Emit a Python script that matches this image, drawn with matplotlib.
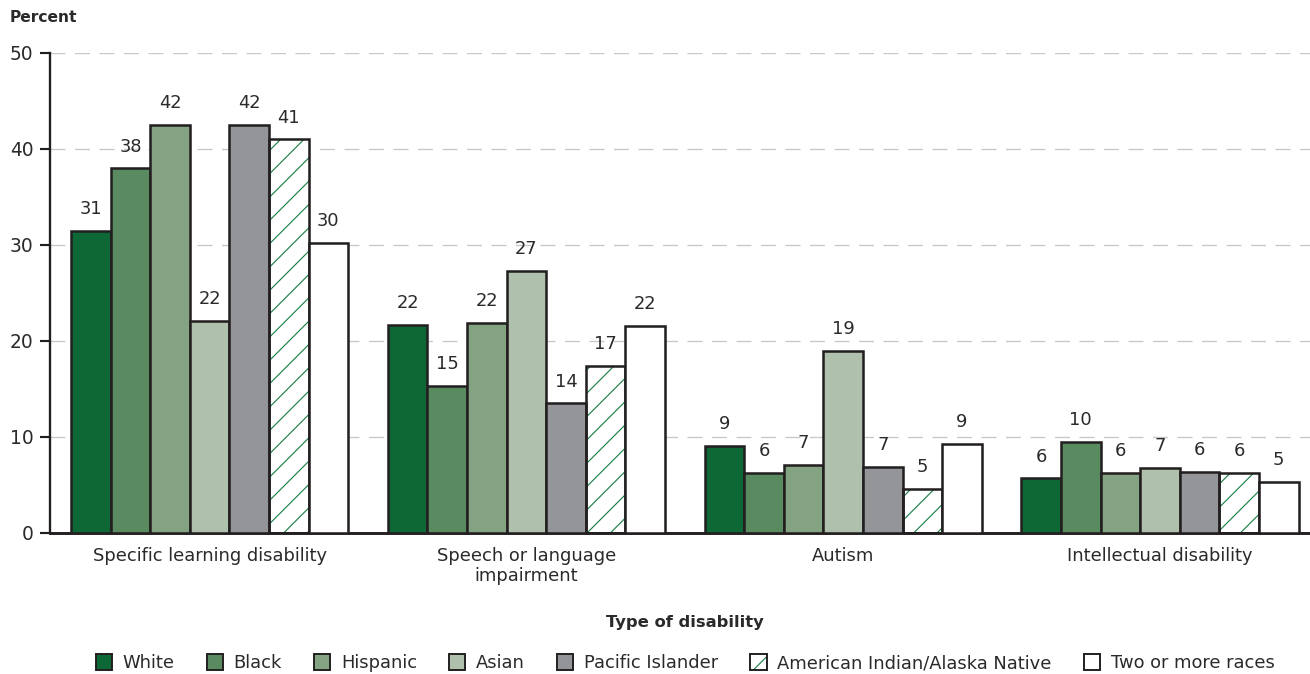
import matplotlib
matplotlib.use("Agg")
import matplotlib.pyplot as plt
from matplotlib.patches import Patch
import numpy as np

categories = ["Specific learning disability", "Speech or language\nimpairment",
              "Autism", "Intellectual disability"]
groups = ["White", "Black", "Hispanic", "Asian", "Pacific Islander",
          "American Indian/Alaska Native", "Two or more races"]
values = {
    "White":                         [31.5, 21.7, 9.1, 5.7],
    "Black":                         [38.0, 15.3, 6.25, 9.5],
    "Hispanic":                      [42.5, 21.9, 7.1, 6.3],
    "Asian":                         [22.1, 27.3, 19.0, 6.8],
    "Pacific Islander":              [42.5, 13.5, 6.9, 6.35],
    "American Indian/Alaska Native": [41.0, 17.4, 4.6, 6.3],
    "Two or more races":             [30.2, 21.6, 9.3, 5.3],
}
labels = {
    "White":                         [31, 22, 9, 6],
    "Black":                         [38, 15, 6, 10],
    "Hispanic":                      [42, 22, 7, 6],
    "Asian":                         [22, 27, 19, 7],
    "Pacific Islander":              [42, 14, 7, 6],
    "American Indian/Alaska Native": [41, 17, 5, 6],
    "Two or more races":             [30, 22, 9, 5],
}
colors = ["#0e6836", "#5a8a5f", "#84a382", "#afc1ad", "#949598", "white", "white"]
hatches = [None, None, None, None, None, "//", None]

edge = "#231f20"
hatch_green = "#1f8049"
text_c = "#2a2a2a"

plt.rcParams["font.family"] = "DejaVu Sans"
plt.rcParams["hatch.linewidth"] = 0.6

DPI = 140
fig = plt.figure(figsize=(1310 / DPI, 674 / DPI), dpi=DPI)
ax = fig.add_axes([50 / 1310, 1 - 533 / 674, 1 - 50 / 1310, (533 - 53) / 674])

x = np.arange(len(categories)) * 8
handles = []
for j, g in enumerate(groups):
    pos = x + j
    if hatches[j]:
        # hatch in green, outline in dark on top
        ax.bar(pos, values[g], width=1, align="edge", color="white",
               edgecolor=hatch_green, linewidth=0, hatch=hatches[j], zorder=2)
        ax.bar(pos, values[g], width=1, align="edge", fill=False,
               edgecolor=edge, linewidth=1.3, zorder=3)
        handles.append((Patch(facecolor="white", edgecolor=hatch_green, hatch="//", linewidth=0),
                        Patch(fill=False, edgecolor=edge, linewidth=1.0)))
    else:
        ax.bar(pos, values[g], width=1, align="edge", color=colors[j],
               edgecolor=edge, linewidth=1.3, zorder=3)
        handles.append(Patch(facecolor=colors[j], edgecolor=edge, linewidth=1.0))
    for p, v, lab in zip(pos, values[g], labels[g]):
        ax.annotate(str(lab), (p + 0.5, v), xytext=(0, 6.5), textcoords="offset points",
                    ha="center", va="bottom", fontsize=9.2, color=text_c)

ax.set_xlim(-0.53, 31.29)
ax.set_ylim(0, 50)
ax.set_yticks(range(0, 51, 10))
ax.set_xticks(x + 3.5)
ax.set_xticklabels(categories, fontsize=9.2, color=text_c)
ax.tick_params(axis="x", length=0, pad=7)
ax.tick_params(axis="y", length=5, width=1.1, labelsize=9.6, labelcolor=text_c,
               color=edge, pad=3.5)
ax.yaxis.grid(True, color="#c8c8c8", linestyle=(0, (11, 7)), linewidth=0.7, zorder=0)
ax.set_axisbelow(True)
for s in ["top", "right"]:
    ax.spines[s].set_visible(False)
ax.spines["left"].set_linewidth(1.2)
ax.spines["left"].set_color(edge)
ax.spines["bottom"].set_linewidth(1.5)
ax.spines["bottom"].set_color(edge)

fig.text(10 / 1310, 1 - 18 / 674, "Percent", fontsize=8, fontweight="bold",
         color=text_c, ha="left", va="center")
fig.text(685 / 1310, 1 - 622 / 674, "Type of disability", fontsize=8.4,
         fontweight="bold", color=text_c, ha="center", va="center")

fig.legend(handles, groups, loc="center", bbox_to_anchor=(0.523, 1 - 663 / 674),
           ncol=7, frameon=False, fontsize=9.2, handlelength=0.9, handleheight=1.0,
           handletextpad=0.6, columnspacing=1.8, labelcolor=text_c)

fig.savefig("out.png", dpi=DPI)
